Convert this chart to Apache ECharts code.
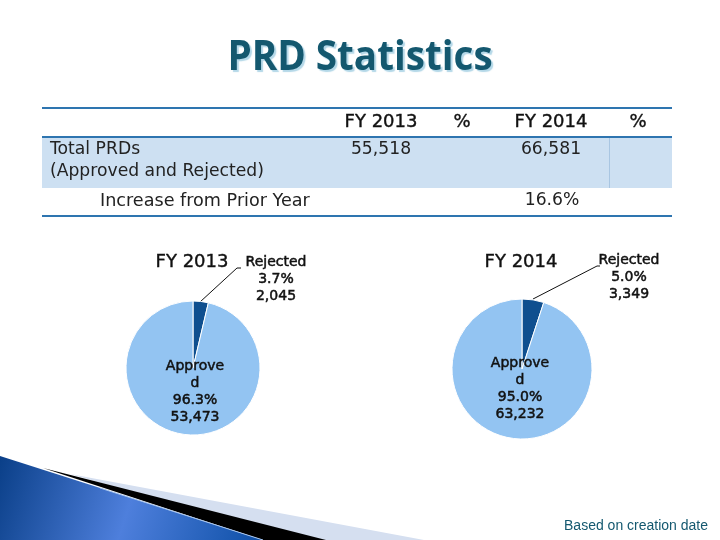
<!doctype html>
<html lang="en">
<head>
    <meta charset="UTF-8">
    <title>PRD Statistics</title>
    <style>
        *{
            margin:0;
            padding:0;
        }
        html,body {
            height:100%;
            background:#fff;
        }
        #main{
            width:720px;
            height:540px;
        }
    </style>
</head>
<body>

<div id="main"></div>
<script src="https://cdn.jsdelivr.net/npm/echarts@6/dist/echarts.min.js"></script>
<script>

    var titleText = 'PRD Statistics';
    var footNote = 'Based on creation date';

    var headers = ['FY 2013', '%', 'FY 2014', '%'];
    var totalLabel = ['Total PRDs', '(Approved and Rejected)'];
    var totals = ['55,518', '66,581'];
    var increaseLabel = 'Increase from Prior Year';
    var increaseValue = '16.6%';

    var sliceNames = ['Rejected', 'Approved'];
    var sliceColors = ['#0f4f8f', '#93c4f2'];
    var values2013 = [2045, 53473];
    var values2014 = [3349, 63232];
    var percents2013 = ['3.7%', '96.3%'];
    var percents2014 = ['5.0%', '95.0%'];

    var font = '"DejaVu Sans"';
    var ruleColor = '#2e75b0';
    var heavy = { fill: '#111', stroke: '#111', lineWidth: 0.4 };

    function commas(n) {
        return String(n).replace(/\B(?=(\d{3})+$)/g, ',');
    }

    function pieSeries(center, radius, values, percents, spots, leader) {
        return {
            type: 'pie',
            center: center,
            radius: radius,
            startAngle: 90,
            clockwise: true,
            silent: true,
            animation: false,
            avoidLabelOverlap: false,
            itemStyle: { borderColor: '#fff', borderWidth: 1 },
            data: values.map(function (v, i) {
                return {
                    name: sliceNames[i],
                    value: v,
                    itemStyle: { color: sliceColors[i] },
                    label: {
                        // the source slide wraps this word in its narrow label box
                        formatter: (sliceNames[i] === 'Approved' ? 'Approve\nd' : sliceNames[i]) + '\n' + percents[i] + '\n' + commas(v)
                    },
                    labelLine: { show: i === 0 }
                };
            }),
            label: {
                show: true,
                position: 'outside',
                fontFamily: font,
                fontSize: 14,
                lineHeight: 17,
                color: '#111',
                align: 'center',
                verticalAlign: 'middle',
                textBorderColor: '#111',
                textBorderWidth: 0.5
            },
            labelLine: {
                show: true,
                length: 10,
                length2: 8,
                lineStyle: { color: '#111', width: 1 }
            },
            labelLayout: function (params) {
                var layout = { x: spots[params.dataIndex][0], y: spots[params.dataIndex][1], align: 'center', verticalAlign: 'middle' };
                if (params.dataIndex === 0) {
                    layout.labelLinePoints = leader;
                }
                return layout;
            }
        };
    }

    function text(x, y, str, size, align, extra, family) {
        var style = { x: x, y: y, text: str, font: size + 'px ' + (family || font), fill: '#222', textAlign: align, textVerticalAlign: 'middle' };
        for (var k in extra) { style[k] = extra[k]; }
        return { type: 'text', z: 5, style: style };
    }

    function rule(y, width) {
        return { type: 'rect', z: 3, shape: { x: 42, y: y, width: 630, height: width }, style: { fill: ruleColor } };
    }

    var blueFill = {
        type: 'linear', x: 0, y: 0, x2: 1, y2: 1,
        colorStops: [
            { offset: 0, color: '#0a3f88' },
            { offset: 0.5, color: '#4e7fdc' },
            { offset: 1, color: '#0d4fa6' }
        ]
    };

    var myChart = echarts.init(document.getElementById('main'), null, { renderer: 'canvas' });

    myChart.setOption({
        backgroundColor: '#fff',
        animation: false,
        graphic: [
            {
                type: 'text', z: 6, x: 360, y: 58, scaleX: 0.92,
                style: {
                    x: 0, y: 0, text: titleText, font: 'bold 42px "Open Sans"', fill: '#14586f',
                    textAlign: 'center', textVerticalAlign: 'middle',
                    textShadowColor: '#b4d8e8', textShadowBlur: 1, textShadowOffsetX: 2, textShadowOffsetY: 2
                }
            },
            { type: 'rect', z: 1, shape: { x: 42, y: 137, width: 630, height: 51 }, style: { fill: '#cde0f2' } },
            { type: 'rect', z: 2, shape: { x: 609, y: 137, width: 1, height: 51 }, style: { fill: '#a9c6e2' } },
            rule(107, 2),
            rule(136, 2),
            rule(215, 2),
            text(381, 122, headers[0], 18, 'center', heavy),
            text(462, 122, headers[1], 18, 'center', heavy),
            text(551, 122, headers[2], 18, 'center', heavy),
            text(638, 122, headers[3], 18, 'center', heavy),
            text(50, 150, totalLabel[0], 17.2, 'left'),
            text(50, 172, totalLabel[1], 17.2, 'left'),
            text(381, 150, totals[0], 17.2, 'center'),
            text(551, 150, totals[1], 17.2, 'center'),
            text(100, 201, increaseLabel, 17.6, 'left'),
            text(552, 201, increaseValue, 17.2, 'center'),
            text(192, 262, headers[0], 18, 'center', heavy),
            text(521, 262, headers[2], 18, 'center', heavy),
            text(708, 526, footNote, 14, 'right', { fill: '#14586f' }, '"Liberation Sans"'),
            { type: 'polygon', z: 1, shape: { points: [[70, 474], [424, 540], [300, 540]] }, style: { fill: '#d5dff0' } },
            { type: 'polygon', z: 2, shape: { points: [[43, 468], [326, 540], [263, 540]] }, style: { fill: '#000' } },
            { type: 'polygon', z: 3, shape: { points: [[0, 456], [263, 540], [0, 540]] }, style: { fill: blueFill } },
            { type: 'line', z: 4, shape: { x1: 100, y1: 488, x2: 263, y2: 540 }, style: { stroke: '#a5c4ee', lineWidth: 1 } }
        ],
        series: [
            pieSeries([193, 368], 67, values2013, percents2013, [[276, 279], [195, 392]], [[200, 302], [237, 268], [241, 268]]),
            pieSeries([522, 369], 70, values2014, percents2014, [[629, 277], [520, 389]], [[533, 299], [597, 266], [600, 266]])
        ]
    });

</script>
</body>
</html>
